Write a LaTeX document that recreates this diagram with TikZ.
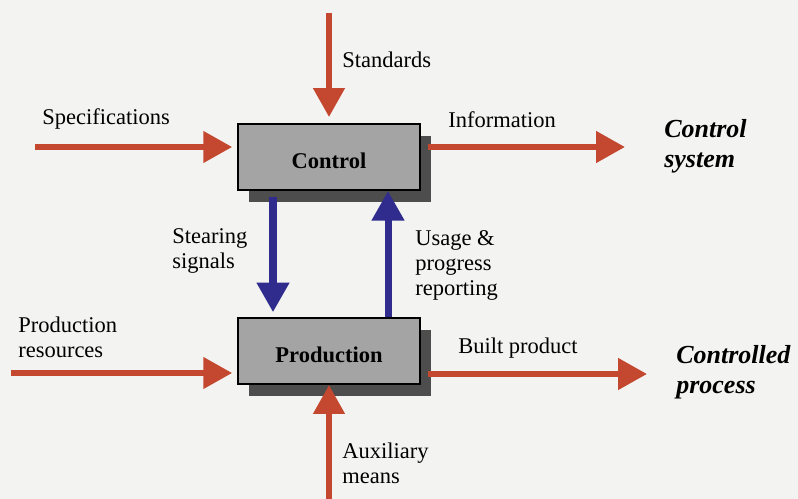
\documentclass[tikz,border=0pt]{standalone}
\usepackage{fontspec}
\setmainfont{Liberation Serif}
\usetikzlibrary{arrows.meta,shadows}
\definecolor{arrred}{HTML}{C4472F}
\definecolor{arrblue}{HTML}{2F2C8E}
\definecolor{boxgray}{HTML}{A4A4A4}
\definecolor{shadegray}{HTML}{4D4D4D}
\definecolor{paper}{HTML}{F3F3F1}
\tikzset{
  block/.style={draw, line width=1.4pt, fill=boxgray, minimum width=4.55cm, minimum height=1.65cm,
                text height=16pt, text depth=0pt, font=\fontsize{16}{18}\selectfont\bfseries,
                drop shadow={fill=shadegray, opacity=1, shadow xshift=0.28cm, shadow yshift=-0.29cm}},
  redarr/.style={draw=arrred, line width=4.2pt, -{Triangle[length=7.2mm, width=7.6mm]}},
  bluearr/.style={draw=arrblue, line width=5pt, -{Triangle[length=7.4mm, width=7.8mm]}},
  lab/.style={anchor=base west, align=left, inner sep=0pt, font=\fontsize{16}{17.7}\selectfont},
  sys/.style={anchor=base west, align=left, inner sep=0pt, font=\fontsize{18.5}{21}\selectfont\bfseries\itshape},
}

\begin{document}
\begin{tikzpicture}[x=0.025cm, y=-0.025cm]
    \fill[paper] (0,0) rectangle (798,499);
    \useasboundingbox (0,0) rectangle (798,499);
    \node[block] (ctrl) at (329,157) {Control};
    \node[block] (prod) at (329,351) {Production};
    \coordinate (stdin) at (329,13);
    \coordinate (specin) at (35,147);
    \coordinate (infoout) at (625,147);
    \coordinate (resin) at (11,373);
    \coordinate (builtout) at (647,374);
    \coordinate (auxin) at (329,499);
    \draw[redarr, shorten >=0.15cm] (stdin) -- (ctrl.north);
    \draw[redarr, shorten >=0.12cm] (specin) -- (specin -| ctrl.west);
    \draw[redarr, shorten <=0.18cm] (infoout -| ctrl.east) -- (infoout);
    \draw[bluearr, shorten <=0.15cm, shorten >=0.12cm] ([xshift=-1.4cm]ctrl.south) -- ([xshift=-1.4cm]prod.north);
    \draw[bluearr] ([xshift=1.475cm]prod.north) -- ([xshift=1.475cm]ctrl.south);
    \draw[redarr, shorten >=0.12cm] (resin) -- (resin -| prod.west);
    \draw[redarr, shorten <=0.18cm] (builtout -| prod.east) -- (builtout);
    \draw[redarr] (auxin) -- (prod.south);
    % multi-line labels sit on the baseline of their last line
    \node[lab] (std) at (342,68) {Standards};
    \node[lab] (spec) at (42,125) {Specifications};
    \node[lab] (info) at (448,128) {Information};
    \node[sys] (csys) at (664,167) {Control\\system};
    \node[lab] (steer) at (172,268) {Stearing\\signals};
    \node[lab] (usage) at (415,295) {Usage \&\\progress\\reporting};
    \node[lab] (res) at (18,357) {Production\\resources};
    \node[lab] (built) at (458,353) {Built product};
    \node[sys] (cproc) at (676,393) {Controlled\\process};
    \node[lab] (aux) at (342,483) {Auxiliary\\means};
  \end{tikzpicture}
\end{document}
